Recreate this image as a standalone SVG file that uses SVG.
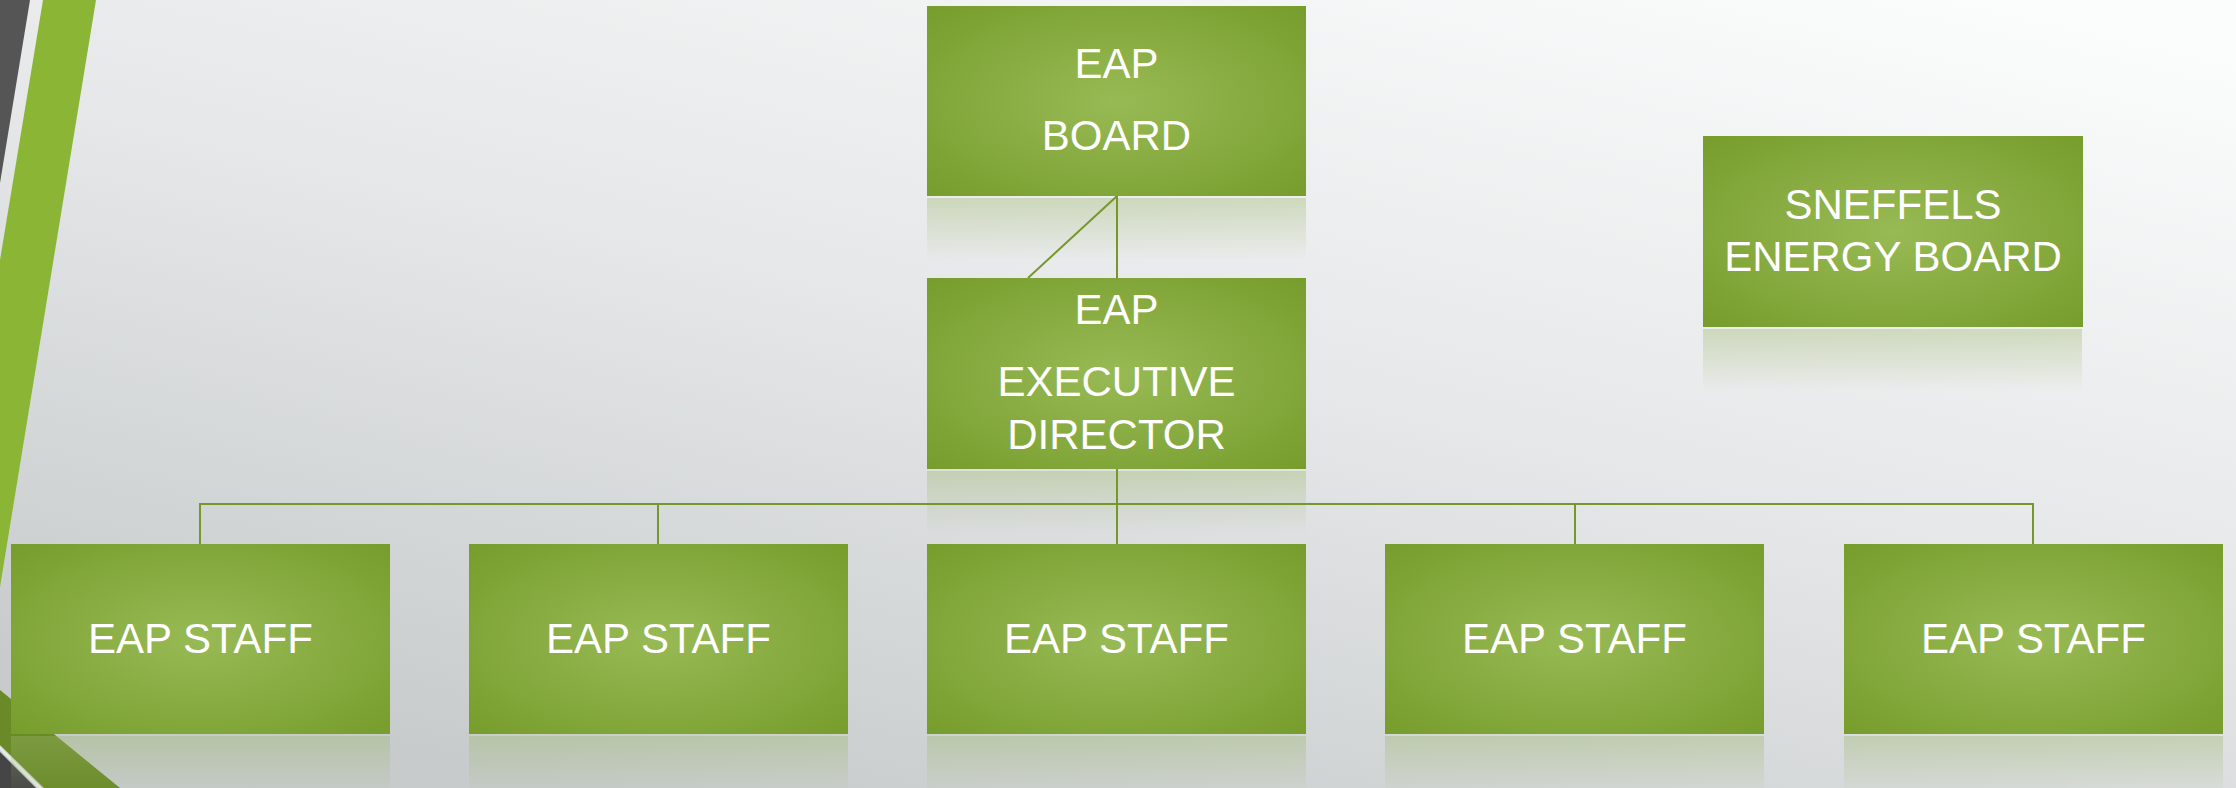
<svg xmlns="http://www.w3.org/2000/svg" width="2236" height="788" viewBox="0 0 2236 788">
<defs>
<linearGradient id="bg" x1="0.9" y1="0" x2="0.25" y2="1">
<stop offset="0" stop-color="#fbfcfc"/>
<stop offset="0.5" stop-color="#e5e7e8"/>
<stop offset="1" stop-color="#c7cbcc"/>
</linearGradient>
<radialGradient id="boxg" cx="50%" cy="50%" r="72%">
<stop offset="0" stop-color="#98ba55"/>
<stop offset="1" stop-color="#769c2b"/>
</radialGradient>
<linearGradient id="refl" x1="0" y1="0" x2="0" y2="1">
<stop offset="0" stop-color="#9bb56a" stop-opacity="0.38"/>
<stop offset="1" stop-color="#9bb56a" stop-opacity="0"/>
</linearGradient>
<style>
.box{fill:url(#boxg)}
.refl{fill:url(#refl)}
.lbl{font-family:"Liberation Sans",Arial,sans-serif;font-size:42px;fill:#ffffff;text-anchor:middle}
.conn{stroke:#76982a;stroke-width:2;fill:none}
</style>
</defs>
<rect x="0" y="0" width="2236" height="788" fill="url(#bg)"/>
<g id="decor">
<polygon points="0,0 30,0 0,183" fill="#555555"/>
<polygon points="43,0 96,0 0,587 0,260" fill="#8bb535"/>
<polygon points="0,690 120,788 44,788 0,745" fill="#6a8a28"/>
<polygon points="0,746 42,788 38,788 0,750" fill="#e8ebe4"/>
<polygon points="0,752 36,788 0,788" fill="#454545"/>
</g>
<g id="reflections">
<rect class="refl" x="927" y="198" width="379" height="62"/>
<rect class="refl" x="927" y="471" width="379" height="62"/>
<rect class="refl" x="1703" y="329" width="379" height="62"/>
<rect class="refl" x="11" y="736" width="379" height="62"/>
<rect class="refl" x="469" y="736" width="379" height="62"/>
<rect class="refl" x="927" y="736" width="379" height="62"/>
<rect class="refl" x="1385" y="736" width="379" height="62"/>
<rect class="refl" x="1844" y="736" width="379" height="62"/>
</g>
<g id="connectors">
<line class="conn" x1="1117" y1="196" x2="1117" y2="278"/>
<line class="conn" x1="1117" y1="196" x2="1028" y2="278"/>
<line class="conn" x1="1117" y1="469" x2="1117" y2="544"/>
<polyline class="conn" points="200,544 200,504 2033,504 2033,544"/>
<line class="conn" x1="658" y1="504" x2="658" y2="544"/>
<line class="conn" x1="1575" y1="504" x2="1575" y2="544"/>
</g>
<g id="eap-board">
<rect class="box" x="927" y="6" width="379" height="190"/>
<text class="lbl" x="1116.5" y="78">EAP</text>
<text class="lbl" x="1116.5" y="150">BOARD</text>
</g>
<g id="eap-executive-director">
<rect class="box" x="927" y="278" width="379" height="191"/>
<text class="lbl" x="1116.5" y="324">EAP</text>
<text class="lbl" x="1116.5" y="396">EXECUTIVE</text>
<text class="lbl" x="1116.5" y="449">DIRECTOR</text>
</g>
<g id="sneffels-energy-board">
<rect class="box" x="1703" y="136" width="380" height="191"/>
<text class="lbl" x="1893" y="219">SNEFFELS</text>
<text class="lbl" x="1893" y="271">ENERGY BOARD</text>
</g>
<g id="staff-1">
<rect class="box" x="11" y="544" width="379" height="190"/>
<text class="lbl" x="200.5" y="653">EAP STAFF</text>
</g>
<g id="staff-2">
<rect class="box" x="469" y="544" width="379" height="190"/>
<text class="lbl" x="658.5" y="653">EAP STAFF</text>
</g>
<g id="staff-3">
<rect class="box" x="927" y="544" width="379" height="190"/>
<text class="lbl" x="1116.5" y="653">EAP STAFF</text>
</g>
<g id="staff-4">
<rect class="box" x="1385" y="544" width="379" height="190"/>
<text class="lbl" x="1574.5" y="653">EAP STAFF</text>
</g>
<g id="staff-5">
<rect class="box" x="1844" y="544" width="379" height="190"/>
<text class="lbl" x="2033.5" y="653">EAP STAFF</text>
</g>
</svg>
